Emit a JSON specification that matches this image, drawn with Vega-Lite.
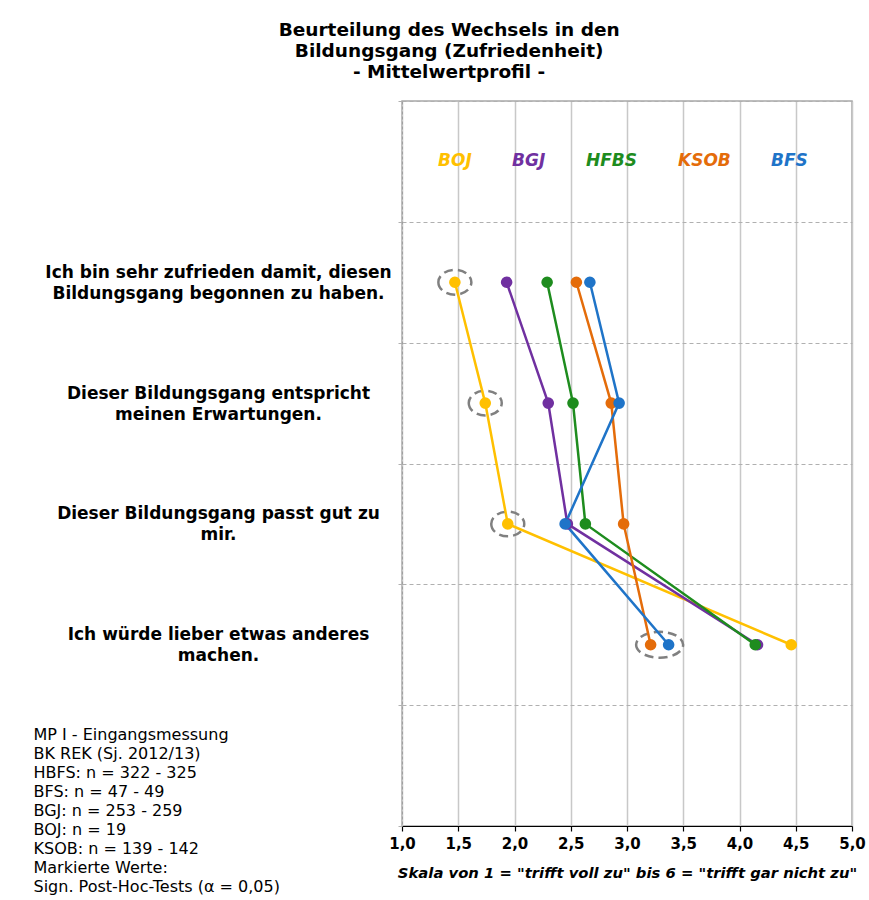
{
  "$schema": "https://vega.github.io/schema/vega-lite/v6.json",
  "width": 450,
  "height": 725,
  "padding": {"left": 33, "top": 20, "right": 5, "bottom": 5},
  "background": "white",
  "title": {
    "text": ["Beurteilung des Wechsels in den", "Bildungsgang (Zufriedenheit)", "- Mittelwertprofil -"],
    "anchor": "middle",
    "frame": "bounds",
    "font": "DejaVu Sans",
    "fontSize": 18.5,
    "fontWeight": "bold",
    "lineHeight": 21,
    "offset": 11,
    "color": "#000000"
  },
  "config": {
    "view": {"stroke": "#a8a8a8", "strokeWidth": 1.5},
    "font": "DejaVu Sans"
  },
  "datasets": {
    "werte": [
      {"item": "Ich bin sehr zufrieden damit, diesen\nBildungsgang begonnen zu haben.", "nr": 1, "group": "BOJ", "value": 1.47},
      {"item": "Ich bin sehr zufrieden damit, diesen\nBildungsgang begonnen zu haben.", "nr": 1, "group": "BGJ", "value": 1.93},
      {"item": "Ich bin sehr zufrieden damit, diesen\nBildungsgang begonnen zu haben.", "nr": 1, "group": "HFBS", "value": 2.29},
      {"item": "Ich bin sehr zufrieden damit, diesen\nBildungsgang begonnen zu haben.", "nr": 1, "group": "KSOB", "value": 2.55},
      {"item": "Ich bin sehr zufrieden damit, diesen\nBildungsgang begonnen zu haben.", "nr": 1, "group": "BFS", "value": 2.67},
      {"item": "Dieser Bildungsgang entspricht\nmeinen Erwartungen.", "nr": 2, "group": "BOJ", "value": 1.74},
      {"item": "Dieser Bildungsgang entspricht\nmeinen Erwartungen.", "nr": 2, "group": "BGJ", "value": 2.30},
      {"item": "Dieser Bildungsgang entspricht\nmeinen Erwartungen.", "nr": 2, "group": "HFBS", "value": 2.52},
      {"item": "Dieser Bildungsgang entspricht\nmeinen Erwartungen.", "nr": 2, "group": "KSOB", "value": 2.86},
      {"item": "Dieser Bildungsgang entspricht\nmeinen Erwartungen.", "nr": 2, "group": "BFS", "value": 2.93},
      {"item": "Dieser Bildungsgang passt gut zu\nmir.", "nr": 3, "group": "BOJ", "value": 1.94},
      {"item": "Dieser Bildungsgang passt gut zu\nmir.", "nr": 3, "group": "BGJ", "value": 2.47},
      {"item": "Dieser Bildungsgang passt gut zu\nmir.", "nr": 3, "group": "HFBS", "value": 2.63},
      {"item": "Dieser Bildungsgang passt gut zu\nmir.", "nr": 3, "group": "KSOB", "value": 2.97},
      {"item": "Dieser Bildungsgang passt gut zu\nmir.", "nr": 3, "group": "BFS", "value": 2.45},
      {"item": "Ich würde lieber etwas anderes\nmachen.", "nr": 4, "group": "BOJ", "value": 4.46},
      {"item": "Ich würde lieber etwas anderes\nmachen.", "nr": 4, "group": "BGJ", "value": 4.16},
      {"item": "Ich würde lieber etwas anderes\nmachen.", "nr": 4, "group": "HFBS", "value": 4.14},
      {"item": "Ich würde lieber etwas anderes\nmachen.", "nr": 4, "group": "KSOB", "value": 3.21},
      {"item": "Ich würde lieber etwas anderes\nmachen.", "nr": 4, "group": "BFS", "value": 3.37}
    ],
    "markiert": [
      {"item": "Ich bin sehr zufrieden damit, diesen\nBildungsgang begonnen zu haben.", "value": 1.47, "kind": "klein"},
      {"item": "Dieser Bildungsgang entspricht\nmeinen Erwartungen.", "value": 1.74, "kind": "klein"},
      {"item": "Dieser Bildungsgang passt gut zu\nmir.", "value": 1.94, "kind": "klein"},
      {"item": "Ich würde lieber etwas anderes\nmachen.", "value": 3.29, "kind": "breit"}
    ]
  },
  "data": {"name": "werte"},
  "encoding": {
    "x": {
      "field": "value",
      "type": "quantitative",
      "scale": {"domain": [1, 5], "nice": false, "zero": false},
      "axis": {
        "values": [1, 1.5, 2, 2.5, 3, 3.5, 4, 4.5, 5],
        "labelExpr": "replace(format(datum.value, '.1f'), '.', ',')",
        "labelFont": "DejaVu Sans",
        "labelFontSize": 15,
        "labelFontWeight": "bold",
        "labelColor": "#000000",
        "labelPadding": 5,
        "labelFlush": false,
        "domainColor": "#000000",
        "domainWidth": 1.2,
        "tickColor": "#000000",
        "tickSize": 5,
        "tickWidth": 1.2,
        "grid": true,
        "gridColor": "#c8c8c8",
        "gridWidth": 1.5,
        "title": "Skala von 1 = \"trifft voll zu\" bis 6 = \"trifft gar nicht zu\"",
        "titleFont": "DejaVu Sans",
        "titleFontSize": 14.8,
        "titleFontStyle": "italic",
        "titleFontWeight": "bold",
        "titleColor": "#000000",
        "titlePadding": 14
      }
    },
    "y": {
      "field": "item",
      "type": "ordinal",
      "scale": {
        "type": "band",
        "domain": [
          "header",
          "Ich bin sehr zufrieden damit, diesen\nBildungsgang begonnen zu haben.",
          "Dieser Bildungsgang entspricht\nmeinen Erwartungen.",
          "Dieser Bildungsgang passt gut zu\nmir.",
          "Ich würde lieber etwas anderes\nmachen.",
          "footer"
        ],
        "paddingInner": 0,
        "paddingOuter": 0
      },
      "axis": {
        "title": ["MP I - Eingangsmessung", "BK REK (Sj. 2012/13)", "HBFS: n = 322 - 325", "BFS: n = 47 - 49", "BGJ: n = 253 - 259", "BOJ: n = 19", "KSOB: n = 139 - 142", "Markierte Werte:", "Sign. Post-Hoc-Tests  (α = 0,05)"],
        "titleAngle": 0,
        "titleAlign": "left",
        "titleBaseline": "top",
        "titleX": -369,
        "titleY": 625,
        "titleFont": "DejaVu Sans",
        "titleFontSize": 16,
        "titleFontWeight": "normal",
        "titleColor": "#000000",
        "titleLineHeight": 19,
        "labelExpr": "isString(datum.value) && datum.value != 'header' && datum.value != 'footer' ? split(datum.value, '\\n') : ''",
        "labelAlign": "center",
        "labelBaseline": "middle",
        "labelOffset": -10,
        "labelFont": "DejaVu Sans",
        "labelFontSize": 17,
        "labelFontWeight": "bold",
        "labelColor": "#000000",
        "labelLineHeight": 21,
        "labelPadding": 180,
        "labelLimit": 450,
        "tickBand": "extent",
        "ticks": true,
        "tickSize": 4,
        "tickColor": "#b0b0b0",
        "tickDash": [4, 3],
        "grid": true,
        "gridColor": "#b0b0b0",
        "gridDash": [4, 3],
        "gridWidth": 1,
        "domain": true,
        "domainColor": "#a0a0a0",
        "domainDash": [3, 2]
      }
    }
  },
  "layer": [
    {
      "data": {"name": "markiert"},
      "transform": [{"filter": "datum.kind == 'klein'"}],
      "mark": {"type": "point", "shape": "M -1 0 A 1 0.75 0 1 0 1 0 A 1 0.75 0 1 0 -1 0 Z", "size": 1089, "filled": false, "stroke": "#808080", "strokeWidth": 2.5, "strokeDash": [9, 5], "opacity": 1}
    },
    {
      "data": {"name": "markiert"},
      "transform": [{"filter": "datum.kind == 'breit'"}],
      "mark": {"type": "point", "shape": "M -1 0 A 1 0.55 0 1 0 1 0 A 1 0.55 0 1 0 -1 0 Z", "size": 2209, "filled": false, "stroke": "#808080", "strokeWidth": 2.5, "strokeDash": [9, 5], "opacity": 1}
    },
    {
      "mark": {"type": "line", "strokeWidth": 2.5},
      "encoding": {
        "color": {
          "field": "group",
          "type": "nominal",
          "scale": {"domain": ["BOJ", "BGJ", "HFBS", "KSOB", "BFS"], "range": ["#FFC000", "#7030A0", "#1E8C1E", "#E46C0A", "#1F74C8"]},
          "legend": {
            "orient": "none",
            "legendX": 19,
            "legendY": 51,
            "direction": "horizontal",
            "title": null,
            "symbolSize": 0,
            "symbolOpacity": 0,
            "symbolStrokeWidth": 0,
            "labelOffset": 0,
            "columnPadding": 23,
            "labelFont": "DejaVu Sans",
            "labelFontSize": 17,
            "labelFontStyle": "italic",
            "labelFontWeight": "bold",
            "labelColor": {"expr": "scale('color', datum.value)"}
          }
        },
        "order": {"field": "nr", "type": "quantitative"}
      }
    },
    {
      "mark": {"type": "circle", "size": 135, "opacity": 1},
      "encoding": {
        "color": {"field": "group", "type": "nominal"}
      }
    }
  ]
}
